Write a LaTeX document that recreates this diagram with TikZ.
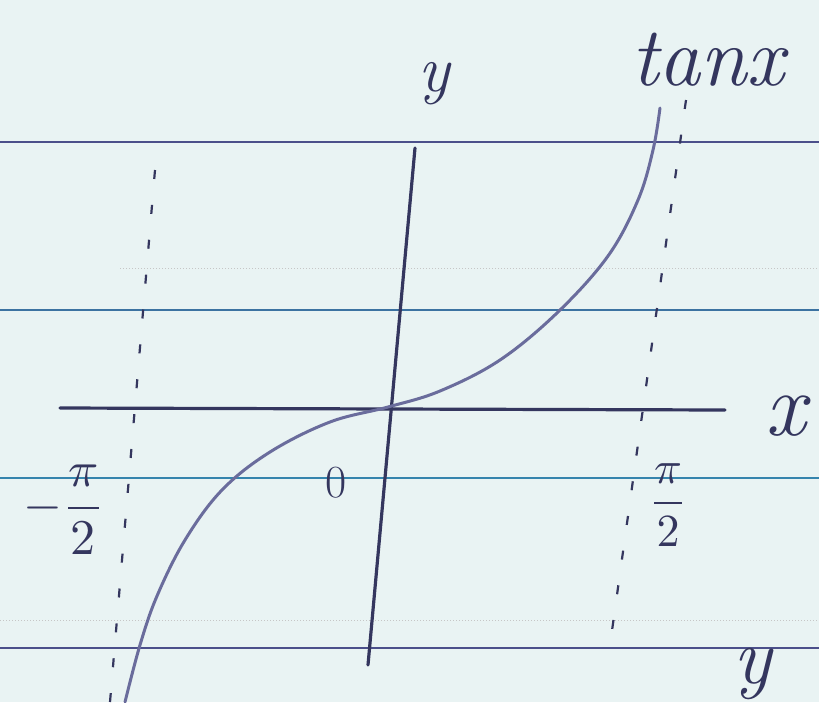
\documentclass[tikz,border=0pt]{standalone}
\usepackage{graphicx}
\usepackage{fontspec}
\begin{document}
\begin{tikzpicture}[x=1pt,y=-1pt,
  rule/.style={line width=2.2pt,draw=rulecol},
  faint/.style={line width=1pt,draw=gray!45,dotted},
  axis/.style={line width=3.2pt,draw=axiscol,line cap=round},
  curve/.style={line width=3pt,draw=curvecol,line cap=round},
  asym/.style={line width=2.2pt,draw=axiscol,dash pattern=on 9pt off 26pt},
  lbl/.style={text=axiscol,font=\fontsize{66}{70}\selectfont\itshape,inner sep=0pt},
  frac/.style={text=axiscol,inner sep=0pt,font=\fontsize{10}{12}\selectfont}]
\definecolor{paper}{HTML}{E9F3F3}
\definecolor{rulecol}{HTML}{4B4F8A}
\definecolor{axiscol}{HTML}{34365E}
\definecolor{curvecol}{HTML}{6A6C9C}
\fill[paper] (0,0) rectangle (819,702);
\useasboundingbox (0,0) rectangle (819,702);
% ruled paper
\draw[rule] (0,142) -- (819,142);
\draw[rule,draw=rulecol!80!cyan] (0,310) -- (819,310);
\draw[rule,draw=rulecol!70!cyan] (0,478) -- (819,478);
\draw[rule] (0,648) -- (819,648);
\draw[faint] (120,268) -- (819,268);
\draw[faint] (0,620) -- (819,620);
% coordinates
\coordinate (xl) at (60,408);
\coordinate (xr) at (725,410);
\coordinate (yt) at (415,148);
\coordinate (yb) at (368,665);
\coordinate (o) at (388,407);
\coordinate (al1) at (155,170);
\coordinate (al2) at (110,702);
\coordinate (ar1) at (686,100);
\coordinate (ar2) at (610,645);
% axes
\draw[axis] (xl) -- (xr);
\draw[axis] (yt) -- (yb);
% asymptotes
\draw[asym] (al1) -- (al2);
\draw[asym] (ar1) -- (ar2);
% tan curve
\draw[curve] plot[smooth,tension=0.6] coordinates {(125,702) (140,645) (157,596) (185,540) (222,490) (270,452) (330,422) (388,407) (440,391) (500,360) (558,312) (608,256) (638,200) (653,150) (660,108)};
% labels
\node[lbl] (ly) at (434,84) {y};
\node[lbl,font=\fontsize{84}{90}\selectfont\itshape] (lt) at (708,60) {tanx};
\node[lbl,font=\fontsize{90}{96}\selectfont\itshape] (lx) at (786,416) {x};
\node[lbl,font=\fontsize{46}{50}\selectfont] (l0) at (336,483) {0};
\node[frac] (lm) at (64,510) {\scalebox{5}{$\displaystyle-\frac{\pi}{2}$}};
\node[frac] (lp) at (668,505) {\scalebox{4.6}{$\displaystyle\frac{\pi}{2}$}};
\node[lbl,anchor=north,font=\fontsize{80}{86}\selectfont\itshape] (ly2) at (752,648) {y};
\end{tikzpicture}
\end{document}
